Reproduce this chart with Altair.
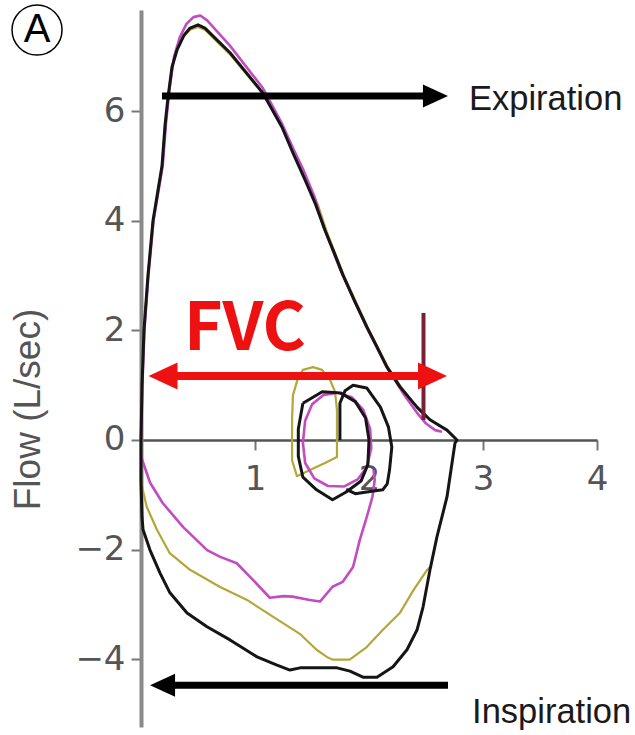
import altair as alt
import pandas as pd

# ---------------- data (volume in L, flow in L/sec) ----------------
BLACK_LOOP_X = [0.0, 0.009, 0.026, 0.061, 0.105, 0.149, 0.184, 0.211, 0.237, 0.272, 0.316, 0.377, 0.43, 0.5, 0.561,
                0.781, 1.07, 1.237, 1.333, 1.439, 1.526, 1.614, 1.702, 1.772, 1.877, 1.982, 2.07, 2.158, 2.272, 2.421,
                2.535, 2.684, 2.772, 2.754, 2.684, 2.596, 2.535, 2.474, 2.421, 2.333, 2.211, 2.07, 1.947, 1.833, 1.719,
                1.57, 1.395, 1.307, 1.193, 1.018, 0.781, 0.579, 0.404, 0.254, 0.167, 0.079, 0.018, 0.009, 0.0, 0.0]
BLACK_LOOP_Y = [0.0, 1.0, 2.0, 3.0, 4.0, 4.56, 5.0, 5.75, 6.26, 6.81, 7.12, 7.39, 7.52, 7.58, 7.52,
                7.07, 6.33, 5.71, 5.24, 4.75, 4.33, 3.83, 3.38, 3.01, 2.52, 2.06, 1.70, 1.33, 0.97, 0.60,
                0.37, 0.18, 0.0, -0.06, -1.04, -1.77, -2.37, -3.05, -3.47, -3.83, -4.14, -4.33, -4.33, -4.22, -4.16,
                -4.16, -4.16, -4.20, -4.11, -3.96, -3.65, -3.41, -3.16, -2.79, -2.43, -2.01, -1.64, -1.41, -0.73, 0.0]

MAGENTA_EXP_X = [0.0, 0.012, 0.03, 0.065, 0.11, 0.19, 0.22, 0.25, 0.29, 0.34, 0.40, 0.46, 0.52, 0.58, 0.78, 1.07,
                 1.24, 1.34, 1.42, 1.52, 1.6, 1.75, 1.98, 2.15, 2.3, 2.42, 2.5, 2.58, 2.64]
MAGENTA_EXP_Y = [0.0, 1.0, 2.0, 3.0, 4.0, 5.0, 5.8, 6.4, 7.0, 7.35, 7.6, 7.72, 7.75, 7.66, 7.2, 6.42,
                 5.76, 5.3, 4.95, 4.45, 3.9, 3.1, 2.05, 1.35, 0.85, 0.5, 0.3, 0.18, 0.15]
MAGENTA_INS_X = [0.0, 0.01, 0.08, 0.19, 0.37, 0.58, 0.69, 0.84, 0.98, 1.13, 1.25, 1.33, 1.48, 1.57, 1.68, 1.77,
                 1.86, 1.92, 1.98, 2.03, 2.05, 2.04]
MAGENTA_INS_Y = [-0.3, -0.36, -0.78, -1.15, -1.59, -2.01, -2.13, -2.25, -2.55, -2.88, -2.85, -2.86, -2.92, -2.95,
                 -2.68, -2.59, -2.32, -1.82, -1.41, -1.04, -0.73, -0.55]
MAGENTA_TIDAL_X = [1.72, 1.85, 1.95, 2.01, 2.02, 1.98, 1.9, 1.78, 1.64, 1.52, 1.44, 1.42, 1.44, 1.5, 1.6, 1.72]
MAGENTA_TIDAL_Y = [0.86, 0.78, 0.55, 0.2, -0.15, -0.5, -0.72, -0.85, -0.84, -0.7, -0.42, -0.05, 0.35, 0.65, 0.82, 0.86]

YELLOW_EXP_X = [0.0, 0.009, 0.026, 0.061, 0.105, 0.149, 0.184, 0.211, 0.237, 0.272, 0.316, 0.377, 0.43, 0.5,
                0.561, 0.781, 1.07, 1.25, 1.45, 1.55, 1.63, 1.78, 1.99, 2.16, 2.27, 2.4, 2.5]
YELLOW_EXP_Y = [0.0, 1.0, 2.0, 3.0, 4.0, 4.56, 5.0, 5.75, 6.26, 6.81, 7.12, 7.37, 7.49, 7.54,
                7.49, 7.04, 6.32, 5.68, 4.75, 4.3, 3.8, 3.0, 2.05, 1.35, 1.0, 0.65, 0.4]
YELLOW_INS_X = [0.0, 0.01, 0.05, 0.14, 0.25, 0.43, 0.69, 0.93, 1.16, 1.40, 1.54, 1.63, 1.68, 1.83, 1.98, 2.12,
                2.27, 2.39, 2.51, 2.55]
YELLOW_INS_Y = [-0.7, -0.86, -1.22, -1.64, -2.06, -2.37, -2.68, -2.92, -3.23, -3.55, -3.83, -3.96, -4.01, -4.01,
                -3.78, -3.47, -3.16, -2.74, -2.37, -2.30]
YELLOW_TIDAL_X = [1.333, 1.377, 1.421, 1.509, 1.588, 1.658, 1.702, 1.719, 1.719, 1.614, 1.482, 1.368, 1.325, 1.325, 1.333]
YELLOW_TIDAL_Y = [0.82, 1.13, 1.28, 1.33, 1.28, 1.10, 0.88, 0.55, -0.31, -0.42, -0.55, -0.66, -0.37, 0.37, 0.82]

BLACK_TIDAL1_X = [1.42, 1.59, 1.75, 1.88, 1.97, 2.0, 1.99, 1.93, 1.8, 1.68, 1.54, 1.42, 1.38, 1.38, 1.42]
BLACK_TIDAL1_Y = [0.67, 0.88, 0.86, 0.7, 0.4, 0.0, -0.45, -0.75, -0.95, -1.09, -0.91, -0.68, -0.3, 0.2, 0.67]
BLACK_TIDAL2_X = [1.745, 1.745, 1.79, 1.86, 1.98, 2.10, 2.17, 2.2, 2.18, 2.16, 2.12, 1.98, 1.88, 1.8]
BLACK_TIDAL2_Y = [0.0, 0.67, 0.9, 1.0, 0.95, 0.6, 0.24, -0.13, -0.55, -0.8, -0.91, -0.95, -0.98, -0.9]

# FVC marker line
MARK_X = [2.478]
MARK_Y = [2.32]
MARK_Y2 = [0.365]

# arrows: shaft start, shaft end, level
ARROW_NAMES = ["Expiration", "Inspiration", "FVC"]
ARROW_X1 = [0.184, 0.19, 0.193]
ARROW_X2 = [2.583, 2.693, 2.557]
ARROW_Y = [6.28, -4.48, 1.168]

HEAD_X_RIGHT = [2.583]
HEAD_Y_RIGHT = [6.28]
HEAD_X_LEFT = [0.189]
HEAD_Y_LEFT = [-4.48]
RED_HEAD_X = [0.193, 2.557]
RED_HEAD_Y = [1.168, 1.168]
RED_HEAD_DIR = ["left", "right"]

LABELS = ["Expiration", "Inspiration"]
LABEL_X = [2.877, 2.904]
LABEL_Y = [6.024, -5.166]

FVC_TEXT = ["FVC"]
FVC_X = [0.912]
FVC_Y = [1.643]

PANEL_TEXT = ["A"]
PANEL_X = [-0.912]
PANEL_Y = [7.485]

X_TICKS = [1, 2, 3, 4]
Y_TICKS = [-4, -2, 0, 2, 4, 6]
X_DOMAIN = [0, 4]
Y_DOMAIN = [-5.24, 7.85]

# ---------------- build ----------------
def seg(name, xs, ys):
    return pd.DataFrame({"x": xs, "y": ys, "seg": name, "i": list(range(len(xs)))})

W, H = 456, 717
zero_px = H * (Y_DOMAIN[1] - 0) / (Y_DOMAIN[1] - Y_DOMAIN[0])

xscale = alt.Scale(domain=X_DOMAIN, nice=False, zero=False)
yscale = alt.Scale(domain=Y_DOMAIN, nice=False, zero=False)

xaxis = alt.Axis(values=X_TICKS, title=None, grid=False, domainColor="#555555", domainWidth=2.5,
                 tickColor="#777777", tickWidth=2, tickSize=10, labelFont="DejaVu Sans",
                 labelFontSize=34, labelColor="#555555", labelPadding=13, offset=zero_px - H,
                 labelFlush=False)
yaxis = alt.Axis(values=Y_TICKS, title="Flow (L/sec)", grid=False, domainColor="#8a8a8a", domainWidth=4,
                 tickColor="#777777", tickWidth=2, tickSize=10, labelFont="DejaVu Sans",
                 labelFontSize=34, labelColor="#555555", labelPadding=6, titleFont="Liberation Sans",
                 titleFontSize=37, titleFontWeight="normal", titleColor="#555555", titleAngle=-90,
                 titleX=-113, titleY=399, titleAlign="center", titleBaseline="middle", labelFlush=False)

X = alt.X("x:Q", scale=xscale, axis=xaxis)
Y = alt.Y("y:Q", scale=yscale, axis=yaxis)

yellow = pd.concat([seg("ye", YELLOW_EXP_X, YELLOW_EXP_Y), seg("yi", YELLOW_INS_X, YELLOW_INS_Y),
                    seg("yt", YELLOW_TIDAL_X, YELLOW_TIDAL_Y)])
magenta = pd.concat([seg("me", MAGENTA_EXP_X, MAGENTA_EXP_Y), seg("mi", MAGENTA_INS_X, MAGENTA_INS_Y),
                     seg("mt", MAGENTA_TIDAL_X, MAGENTA_TIDAL_Y)])
black = pd.concat([seg("bl", BLACK_LOOP_X, BLACK_LOOP_Y), seg("b1", BLACK_TIDAL1_X, BLACK_TIDAL1_Y),
                   seg("b2", BLACK_TIDAL2_X, BLACK_TIDAL2_Y)])

def curves(df, color, width):
    return alt.Chart(df).mark_line(color=color, strokeWidth=width, strokeJoin="round").encode(
        x=X, y=Y, detail="seg:N", order="i:Q")

l_yellow = curves(yellow, "#b5a63a", 2.2)
l_magenta = curves(magenta, "#c24cc0", 2.6)
l_black = curves(black, "#151515", 3)

mark_df = pd.DataFrame({"x": MARK_X, "y": MARK_Y, "y2": MARK_Y2})
l_mark = alt.Chart(mark_df).mark_rule(color="#7a2036", strokeWidth=4).encode(x=X, y=Y, y2="y2:Q")

arrows = pd.DataFrame({"name": ARROW_NAMES, "x": ARROW_X1, "x2": ARROW_X2, "y": ARROW_Y})
l_black_shafts = alt.Chart(arrows[arrows.name != "FVC"]).mark_rule(color="#000000", strokeWidth=7).encode(
    x=X, x2="x2:Q", y=Y)
l_red_shaft = alt.Chart(arrows[arrows.name == "FVC"]).mark_rule(color="#ee1111", strokeWidth=8).encode(
    x=X, x2="x2:Q", y=Y)

RIGHT_PATH = "M1,0L-1,-0.92L-1,0.92Z"
LEFT_PATH = "M-1,0L1,-0.92L1,0.92Z"
l_head_r = alt.Chart(pd.DataFrame({"x": HEAD_X_RIGHT, "y": HEAD_Y_RIGHT})).mark_point(
    shape=RIGHT_PATH, size=625, filled=True, color="#000000", opacity=1).encode(x=X, y=Y)
l_head_l = alt.Chart(pd.DataFrame({"x": HEAD_X_LEFT, "y": HEAD_Y_LEFT})).mark_point(
    shape=LEFT_PATH, size=625, filled=True, color="#000000", opacity=1).encode(x=X, y=Y)
red_heads = pd.DataFrame({"x": RED_HEAD_X, "y": RED_HEAD_Y, "d": RED_HEAD_DIR})
l_red_l = alt.Chart(red_heads[red_heads.d == "left"]).mark_point(
    shape="M-1,0L1,-0.93L1,0.93Z", size=841, filled=True, color="#ee1111", opacity=1).encode(x=X, y=Y)
l_red_r = alt.Chart(red_heads[red_heads.d == "right"]).mark_point(
    shape="M1,0L-1,-0.93L-1,0.93Z", size=841, filled=True, color="#ee1111", opacity=1).encode(x=X, y=Y)

l_labels = alt.Chart(pd.DataFrame({"x": LABEL_X, "y": LABEL_Y, "t": LABELS})).mark_text(
    font="Liberation Sans", fontSize=34.5, color="#1a1a1a", align="left", baseline="alphabetic").encode(
    x=X, y=Y, text="t:N")
l_fvc = alt.Chart(pd.DataFrame({"x": FVC_X, "y": FVC_Y, "t": FVC_TEXT})).mark_text(
    font="Noto Sans CJK KR", fontWeight="bold", fontSize=66, color="#ee1111", align="center",
    baseline="alphabetic").encode(x=X, y=Y, text="t:N")

panel_df = pd.DataFrame({"x": PANEL_X, "y": PANEL_Y, "t": PANEL_TEXT})
l_circle = alt.Chart(panel_df).mark_point(shape="circle", size=2500, filled=False, color="#000000",
                                          strokeWidth=1.5, opacity=1).encode(x=X, y=Y)
l_A = alt.Chart(panel_df).mark_text(font="Liberation Sans", fontSize=40, color="#000000", align="center",
                                    baseline="middle").encode(x=X, y=Y, text="t:N")

chart = alt.layer(
    l_yellow, l_magenta, l_black, l_mark, l_black_shafts, l_head_r, l_head_l,
    l_red_shaft, l_red_l, l_red_r, l_labels, l_fvc, l_circle, l_A
).properties(
    width=W, height=H,
    autosize=alt.AutoSizeParams(type="none"),
    padding={"left": 141, "top": 10, "right": 38, "bottom": 8},
    background="white",
).configure_view(strokeWidth=0)

chart.save("out.html", embed_options={"renderer": "svg", "actions": False})
